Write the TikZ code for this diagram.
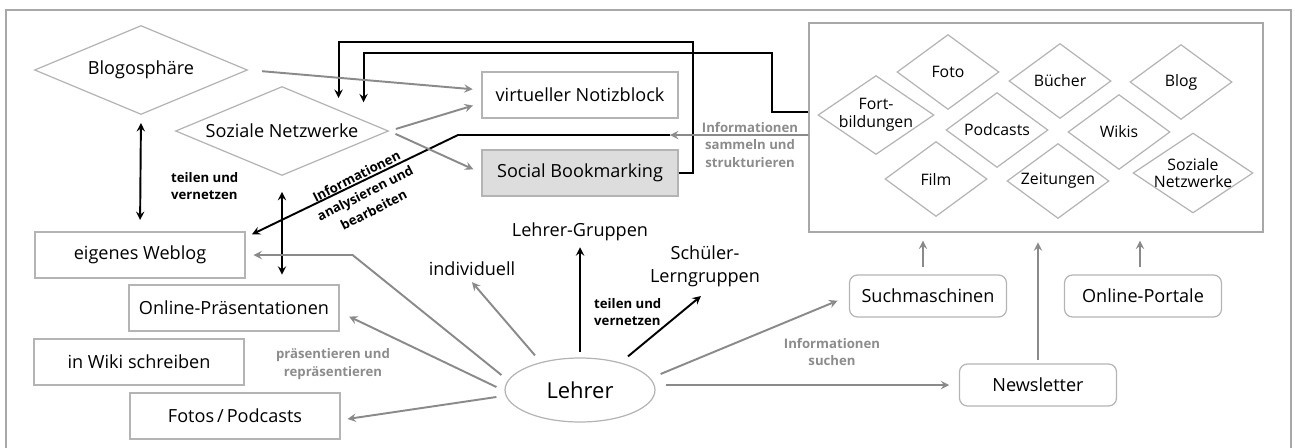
\documentclass[tikz,border=0pt]{standalone}
\usepackage{fontspec}
\setmainfont{Open Sans}
\usetikzlibrary{shapes.geometric, arrows, calc}
\definecolor{linegray}{HTML}{8A8A8A}
\definecolor{boxgray}{HTML}{B4B4B4}
\definecolor{framegray}{HTML}{A8A8A8}
\definecolor{fillgray}{HTML}{DDDDDD}
\definecolor{labelgray}{HTML}{8C8C8C}
\tikzstyle{tool} = [rectangle, draw=boxgray, line width=0.7pt, minimum width=4.2cm, minimum height=0.92cm, text centered, font=\fontsize{10.3}{12}\selectfont]
\tikzstyle{source} = [tool, rounded corners=4.5pt, minimum width=3.14cm, minimum height=0.84cm]
\tikzstyle{bigdia} = [diamond, draw=boxgray, line width=0.7pt, shape aspect=2.4, minimum width=4.26cm, minimum height=1.78cm, inner sep=0pt, font=\fontsize{10.3}{12}\selectfont]
\tikzstyle{media} = [diamond, draw=boxgray, line width=0.7pt, shape aspect=1.36, minimum width=2.04cm, minimum height=1.5cm, inner sep=-2pt, align=center, font=\fontsize{9}{10}\selectfont]
\tikzstyle{plain} = [font=\fontsize{10.3}{13}\selectfont, align=center]
\tikzstyle{blabel} = [font=\bfseries\fontsize{7.5}{10}\selectfont, align=center]
\tikzstyle{glabel} = [blabel, text=labelgray]
\tikzstyle{garrow} = [line width=1.1pt, draw=linegray, ->, >=stealth]
\tikzstyle{barrow} = [line width=1.1pt, ->, >=stealth]

\begin{document}
\begin{tikzpicture}[x=0.02cm, y=-0.02cm]
	\useasboundingbox (0,0) rectangle (1295,447);
	\draw[draw=framegray, line width=1.1pt] (6,10) rectangle (1291,470);

	\node (blogo) [bigdia] at (141,70) {Blogosphäre};
	\node (sozial) [bigdia] at (282,131) {Soziale Netzwerke};
	\node (notiz) [tool, minimum width=3.92cm] at (580,95) {virtueller Notizblock};
	\node (bookm) [tool, minimum width=3.92cm, fill=fillgray] at (580,173) {Social Bookmarking};
	\node (weblog) [tool] at (140,255) {eigenes Weblog};
	\node (praes) [tool] at (234,308) {Online-Präsentationen};
	\node (wiki) [tool] at (139,362) {in Wiki schreiben};
	\node (fotos) [tool] at (235,416) {Fotos\,/\,Podcasts};

	\node (box) [draw=framegray, line width=0.8pt, minimum width=9.08cm, minimum height=4.18cm] at (1036,127.5) {};
	\node (fortb) [media, minimum width=2.32cm, minimum height=1.58cm] at (876,115) {Fort-\\bildungen};
	\node (foto) [media] at (948,72) {Foto};
	\node (buecher) [media] at (1060,81) {Bücher};
	\node (blog) [media] at (1181,82) {Blog};
	\node (podcasts) [media] at (997,130) {Podcasts};
	\node (wikis) [media] at (1119,132) {Wikis};
	\node (film) [media] at (936,179) {Film};
	\node (zeitung) [media] at (1058,181) {Zeitungen};
	\node (sozmedia) [media, minimum width=2.4cm, minimum height=1.6cm] at (1193,173) {Soziale\\Netzwerke};

	\node (such) [source] at (928,296) {Suchmaschinen};
	\node (portal) [source] at (1143,296) {Online-Portale};
	\node (news) [source] at (1038,385) {Newsletter};

	\node (lehrer) [ellipse, draw=boxgray, line width=0.7pt, minimum width=3cm, minimum height=1.28cm, font=\fontsize{12.5}{14}\selectfont] at (580,390) {Lehrer};
	\node (lgrup) [plain] at (580,232) {Lehrer-Gruppen};
	\node (indiv) [plain] at (472,269) {individuell};
	\node (schueler) [plain] at (705,266) {Schüler-\\Lerngruppen};

	\node (teilen1) [blabel, anchor=west, align=left] at (165,186) {teilen und\\vernetzen};
	\node (teilen2) [blabel, anchor=west, align=left] at (588,312) {teilen und\\vernetzen};
	\node (analyse) [blabel, font=\bfseries\fontsize{7.5}{10.8}\selectfont, rotate=27] at (365,193) {Informationen\\analysieren und\\bearbeiten};
	\node (sammeln) [glabel] at (750,145) {Informationen\\sammeln und\\strukturieren};
	\node (praesent) [glabel] at (333,364) {präsentieren und\\repräsentieren};
	\node (suchen) [glabel] at (832,352) {Informationen\\suchen};

	\coordinate (k1) at (693,42);
	\coordinate (k2) at (772,53);
	\coordinate (k3) at (458,135);
	\coordinate (sammel) at (670,135);

	\draw [barrow, shorten >=6pt] (bookm.east) -| (k1) -| ($(sozial.north east)+(3,0)$);
	\draw [barrow, shorten >=3.5pt] ($(box.west)+(0,-15.5)$) -| (k2) -| ($(sozial.north east)+(28,0)$);
	\draw [garrow] ($(box.west)+(0,7.5)$) -- (sammel);
	\draw [barrow, shorten >=4pt] (sammel) -- (k3) -- ($(weblog.north east)+(0,6)$);
	\draw [barrow, <->, shorten <=4.5pt, shorten >=6.5pt] (blogo.south) -- (weblog.north);
	\draw [barrow, <->, shorten <=9pt, shorten >=5.5pt] (sozial.south) -- (sozial.south |- praes.north);

	\draw [garrow, shorten <=8pt, shorten >=5pt] (blogo.east) -- ($(notiz.west)+(0,-5)$);
	\draw [garrow, shorten <=4pt, shorten >=5pt] (sozial.east) -- ($(notiz.west)+(0,8)$);
	\draw [garrow, shorten <=4pt, shorten >=5pt] (sozial.east) -- (bookm.west);

	\draw [garrow, shorten >=4.5pt] ($(lehrer.west)+(-3,-15)$) -- ($(weblog.east)+(107,0)$) -- (weblog.east);
	\draw [garrow, shorten >=6pt] ($(lehrer.west)+(-8,-3)$) -- ($(praes.east)+(0,4)$);
	\draw [garrow, shorten >=4pt] ($(lehrer.west)+(-8,7)$) -- ($(fotos.east)+(0,4)$);
	\draw [garrow] ($(lehrer.north)+(-45,-2)$) -- (indiv.south);
	\draw [barrow, shorten <=3pt] (lehrer.north) -- (lgrup.south);
	\draw [barrow, shorten >=3pt] ($(lehrer.north)+(48,-1)$) -- (schueler.south);
	\draw [garrow, shorten >=7pt] ($(lehrer.east)+(5,-16)$) -- (such.west);
	\draw [garrow, shorten >=5.5pt] ($(lehrer.east)+(10,-5)$) -- (news.west);

	\draw [garrow, shorten <=4pt, shorten >=4.5pt] ($(such.north)+(-5,0)$) -- ($(such.north |- box.south)+(-5,0)$);
	\draw [garrow, shorten <=4pt, shorten >=4.5pt] ($(portal.north)+(-3,0)$) -- ($(portal.north |- box.south)+(-3,0)$);
	\draw [garrow, shorten <=2pt, shorten >=5.5pt] (news.north) -- (news.north |- box.south);
\end{tikzpicture}
\end{document}
